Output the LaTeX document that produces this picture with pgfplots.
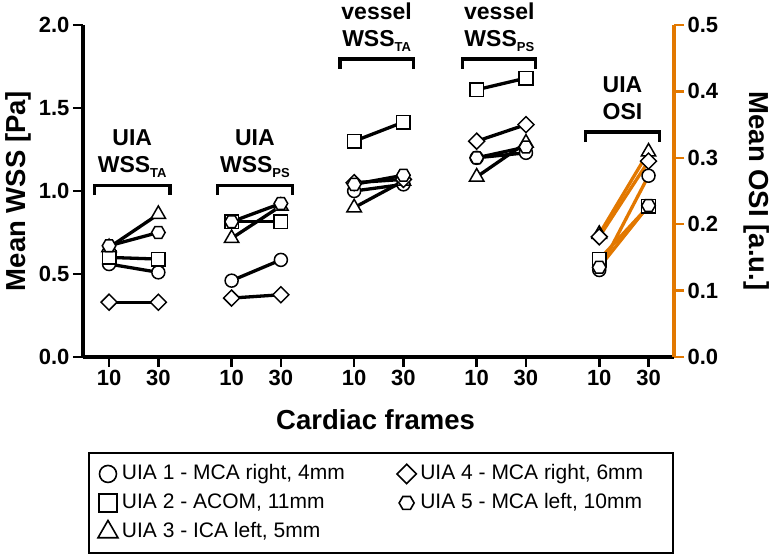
\documentclass[border=0pt]{standalone}
\usepackage{pgfplots}
\pgfplotsset{compat=1.18}
\usepackage{pgfplotstable}
\usepackage{fontspec}
\setmainfont{Liberation Sans}
\definecolor{osi}{RGB}{226,120,0}

\pgfdeclareplotmark{hexa}{%
  \pgfpathmoveto{\pgfqpoint{\pgfplotmarksize}{0pt}}%
  \pgfpathlineto{\pgfqpoint{0.5\pgfplotmarksize}{0.866\pgfplotmarksize}}%
  \pgfpathlineto{\pgfqpoint{-0.5\pgfplotmarksize}{0.866\pgfplotmarksize}}%
  \pgfpathlineto{\pgfqpoint{-\pgfplotmarksize}{0pt}}%
  \pgfpathlineto{\pgfqpoint{-0.5\pgfplotmarksize}{-0.866\pgfplotmarksize}}%
  \pgfpathlineto{\pgfqpoint{0.5\pgfplotmarksize}{-0.866\pgfplotmarksize}}%
  \pgfpathclose\pgfusepathqfillstroke}
\pgfdeclareplotmark{rdiamond}{%
  \pgfpathmoveto{\pgfqpoint{0pt}{\pgfplotmarksize}}%
  \pgfpathlineto{\pgfqpoint{\pgfplotmarksize}{0pt}}%
  \pgfpathlineto{\pgfqpoint{0pt}{-\pgfplotmarksize}}%
  \pgfpathlineto{\pgfqpoint{-\pgfplotmarksize}{0pt}}%
  \pgfpathclose\pgfusepathqfillstroke}

% columns: c = UIA1 (circle), s = UIA2 (square), t = UIA3 (triangle), d = UIA4 (diamond), h = UIA5 (hexagon)
% UIA WSS_TA
\pgfplotstableread{
x c s t d h
0 0.56 0.60 0.66 0.33 0.67
1 0.51 0.59 0.86 0.33 0.75
}\gA
% UIA WSS_PS
\pgfplotstableread{
x c s t d h
2.487 0.46 0.815 0.715 0.355 0.815
3.487 0.585 0.815 0.91 0.375 0.925
}\gB
% vessel WSS_TA
\pgfplotstableread{
x c s t d h
4.974 1.00 1.30 0.90 1.05 1.04
5.974 1.04 1.415 1.06 1.07 1.095
}\gC
% vessel WSS_PS
\pgfplotstableread{
x c s t d h
7.461 1.20 1.61 1.085 1.30 1.20
8.461 1.23 1.68 1.29 1.40 1.265
}\gD
% UIA OSI (right axis)
\pgfplotstableread{
x c s t d h
9.948 0.131 0.147 0.185 0.181 0.135
10.948 0.273 0.227 0.309 0.295 0.228
}\gE

\pgfplotsset{
  mC/.style={mark=*, mark size=6.5pt, mark options={fill=white, draw=black, line width=1.5pt}},
  mS/.style={mark=square*, mark size=6.8pt, mark options={fill=white, draw=black, line width=1.5pt}},
  mT/.style={mark=triangle*, mark size=8.3pt, mark options={fill=white, draw=black, line width=1.5pt}},
  mD/.style={mark=rdiamond, mark size=8pt, mark options={fill=white, draw=black, line width=1.5pt}},
  mH/.style={mark=hexa, mark size=6.8pt, mark options={fill=white, draw=black, line width=1.5pt}},
  wline/.style={forget plot, no marks, black, line width=3.3pt},
  oline/.style={forget plot, no marks, osi, line width=3.3pt},
}

\newcommand{\grouplines}[2]{%
  \addplot[#2] table[x=x,y=c]{#1};
  \addplot[#2] table[x=x,y=s]{#1};
  \addplot[#2] table[x=x,y=t]{#1};
  \addplot[#2] table[x=x,y=d]{#1};
  \addplot[#2] table[x=x,y=h]{#1};
}
\newcommand{\groupmarks}[1]{%
  \addplot[forget plot, only marks, mC] table[x=x,y=c]{#1};
  \addplot[forget plot, only marks, mS] table[x=x,y=s]{#1};
  \addplot[forget plot, only marks, mT] table[x=x,y=t]{#1};
  \addplot[forget plot, only marks, mD] table[x=x,y=d]{#1};
  \addplot[forget plot, only marks, mH] table[x=x,y=h]{#1};
}

\newcommand{\glab}{\bfseries\fontsize{23}{23}\selectfont}
\newcommand{\sub}[1]{\raisebox{-5pt}{\fontsize{13}{13}\selectfont #1}}

\begin{document}
\begin{tikzpicture}
\begin{axis}[
  scale only axis, width=591pt, height=332pt,
  at={(0,0)}, anchor=south west,
  xmin=-0.529, xmax=11.465, ymin=0, ymax=2,
  clip=false,
  axis x line*=bottom, axis y line*=left,
  axis line style={line width=3.3pt, black},
  xtick={0,1,2.487,3.487,4.974,5.974,7.461,8.461,9.948,10.948},
  xticklabels={10,30,10,30,10,30,10,30,10,30},
  ytick={0,0.5,1,1.5,2},
  tick style={line width=2.5pt, black},
  tick align=outside, major tick length=10pt,
  tick label style={font=\bfseries\fontsize{22}{22}\selectfont, black},
  y tick label style={/pgf/number format/.cd, fixed, fixed zerofill, precision=1, assume math mode=true},
  xlabel={Cardiac frames}, ylabel={Mean WSS [Pa]},
  every axis x label/.style={at={(axis description cs:0.495,-0.217)}, anchor=base, font=\bfseries\fontsize{27.5}{30}\selectfont},
  every axis y label/.style={at={(axis description cs:-0.098,0.5)}, anchor=base, rotate=90, font=\bfseries\fontsize{27.5}{30}\selectfont},
  legend columns=2,
  legend cell align=left,
  legend style={at={(axis description cs:0.0085,-0.286)}, anchor=north west,
    draw=black, line width=2pt, font=\fontsize{21}{25}\selectfont,
    inner xsep=9pt, inner ysep=8pt, row sep=3pt,
    nodes={inner xsep=4pt, inner ysep=3pt, text height=15.5pt, text depth=4.5pt}},
]
\addlegendimage{only marks, mark=*, mark size=8.5pt, mark options={fill=white, draw=black, line width=1.6pt}}
\addlegendentry{\makebox[271pt][l]{UIA 1 - MCA right, 4mm}}
\addlegendimage{only marks, mark=rdiamond, mark size=9.7pt, mark options={fill=white, draw=black, line width=1.6pt}}
\addlegendentry{\makebox[240pt][l]{UIA 4 - MCA right, 6mm}}
\addlegendimage{only marks, mark=square*, mark size=9pt, mark options={fill=white, draw=black, line width=1.6pt}}
\addlegendentry{\makebox[271pt][l]{UIA 2 - ACOM, 11mm}}
\addlegendimage{only marks, mark=hexa, mark size=7.5pt, mark options={fill=white, draw=black, line width=1.6pt}}
\addlegendentry{\makebox[240pt][l]{UIA 5 - MCA left, 10mm}}
\addlegendimage{only marks, mark=triangle*, mark size=11.5pt, mark options={fill=white, draw=black, line width=1.6pt}}
\addlegendentry{\makebox[271pt][l]{UIA 3 - ICA left, 5mm}}

\grouplines{\gA}{wline}
\grouplines{\gB}{wline}
\grouplines{\gC}{wline}
\grouplines{\gD}{wline}
\groupmarks{\gA}
\groupmarks{\gB}
\groupmarks{\gC}
\groupmarks{\gD}

% brackets
\draw[line width=3.3pt] (axis cs:-0.29,0.975) |- (axis cs:1.235,1.035) -- (axis cs:1.235,0.975);
\draw[line width=3.3pt] (axis cs:2.197,0.975) |- (axis cs:3.727,1.035) -- (axis cs:3.727,0.975);
\draw[line width=3.3pt] (axis cs:4.684,1.735) |- (axis cs:6.174,1.795) -- (axis cs:6.174,1.735);
\draw[line width=3.3pt] (axis cs:7.171,1.735) |- (axis cs:8.661,1.795) -- (axis cs:8.661,1.735);
\draw[line width=3.3pt] (axis cs:9.668,1.295) |- (axis cs:11.168,1.355) -- (axis cs:11.168,1.295);

\node[anchor=base, font=\glab, yshift=13pt] at (axis cs:0.47,1.035) {WSS\sub{TA}};
\node[anchor=base, font=\glab, yshift=40pt] at (axis cs:0.47,1.035) {UIA};
\node[anchor=base, font=\glab, yshift=13pt] at (axis cs:2.96,1.035) {WSS\sub{PS}};
\node[anchor=base, font=\glab, yshift=40pt] at (axis cs:2.96,1.035) {UIA};
\node[anchor=base, font=\glab, yshift=13pt] at (axis cs:5.43,1.795) {WSS\sub{TA}};
\node[anchor=base, font=\glab, yshift=40pt] at (axis cs:5.43,1.795) {vessel};
\node[anchor=base, font=\glab, yshift=13pt] at (axis cs:7.92,1.795) {WSS\sub{PS}};
\node[anchor=base, font=\glab, yshift=40pt] at (axis cs:7.92,1.795) {vessel};
\node[anchor=base, font=\glab, yshift=13pt] at (axis cs:10.42,1.355) {OSI};
\node[anchor=base, font=\glab, yshift=40pt] at (axis cs:10.42,1.355) {UIA};
\end{axis}

\begin{axis}[
  scale only axis, width=591pt, height=332pt,
  at={(0,0)}, anchor=south west,
  xmin=-0.529, xmax=11.465, ymin=0, ymax=0.5,
  clip=false,
  axis x line=none, axis y line*=right,
  y axis line style={line width=3.3pt, osi},
  xtick=\empty,
  ytick={0,0.1,0.2,0.3,0.4,0.5},
  tick style={line width=2.5pt, osi},
  tick align=outside, major tick length=10pt,
  tick label style={font=\bfseries\fontsize{22}{22}\selectfont, black},
  y tick label style={/pgf/number format/.cd, fixed, fixed zerofill, precision=1, assume math mode=true},
  ylabel={Mean OSI [a.u.]},
  every axis y label/.style={at={(axis description cs:1.127,0.5)}, anchor=base, rotate=-90, font=\bfseries\fontsize{27.5}{30}\selectfont},
]
\grouplines{\gE}{oline}
\groupmarks{\gE}
\end{axis}
\pgfresetboundingbox
\path[use as bounding box] (-83pt,-200pt) rectangle (689pt,357pt);
\end{tikzpicture}
\end{document}
